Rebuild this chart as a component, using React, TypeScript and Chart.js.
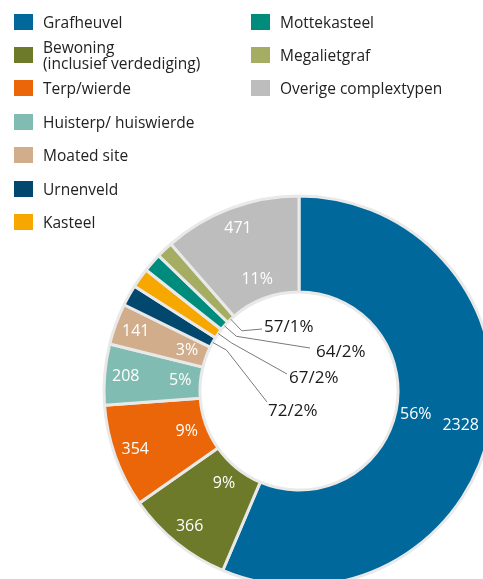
import React, { useEffect, useRef } from "react";
import { Chart, registerables } from "chart.js";

Chart.register(...registerables);

const categories = [
  "Grafheuvel",
  "Bewoning (inclusief verdediging)",
  "Terp/wierde",
  "Huisterp/ huiswierde",
  "Moated site",
  "Urnenveld",
  "Kasteel",
  "Mottekasteel",
  "Megalietgraf",
  "Overige complextypen",
];
const legendLabels = [
  "Grafheuvel",
  "Bewoning\n(inclusief verdediging)",
  "Terp/wierde",
  "Huisterp/ huiswierde",
  "Moated site",
  "Urnenveld",
  "Kasteel",
  "Mottekasteel",
  "Megalietgraf",
  "Overige complextypen",
];
const counts = [2328, 366, 354, 208, 141, 72, 67, 64, 57, 471];
const colors = [
  "#01689b",
  "#6c7a2a",
  "#ea6608",
  "#80bcb2",
  "#d1ad8c",
  "#02476d",
  "#f7a800",
  "#008c7d",
  "#a5ad63",
  "#bdbdbd",
];

// callout layout (relative to doughnut centre) for the small slices
const calloutIndex = [5, 6, 7, 8];
const calloutEnd = [
  [-32, 11],
  [-12, -17],
  [11, -43],
  [-37, -62],
];
const calloutTextShift = [
  [1, 9],
  [2, 4],
  [6, 4],
  [2, -2],
];

const FONT = "'Open Sans', 'Noto Sans', sans-serif";

export default function App() {
  const canvasRef = useRef<HTMLCanvasElement | null>(null);

  useEffect(() => {
    const canvas = canvasRef.current;
    if (!canvas) return;
    const total = counts.reduce((a, b) => a + b, 0);

    const labelPlugin = {
      id: "sliceLabels",
      afterDatasetsDraw(chart: any) {
        const ctx = chart.ctx;
        const meta = chart.getDatasetMeta(0);
        ctx.save();
        meta.data.forEach((arc: any, i: number) => {
          const p = arc.getProps(["x", "y", "startAngle", "endAngle", "innerRadius", "outerRadius"], true);
          const mid = (p.startAngle + p.endAngle) / 2;
          const pct = Math.round((counts[i] / total) * 100) + "%";
          const ring = p.outerRadius - p.innerRadius;
          const ci = calloutIndex.indexOf(i);
          if (ci < 0) {
            ctx.fillStyle = "#ffffff";
            ctx.font = "16px " + FONT;
            ctx.textAlign = "center";
            ctx.textBaseline = "middle";
            const rp = p.innerRadius + ring * 0.21;
            ctx.fillText(pct, p.x + Math.cos(mid) * rp, p.y + Math.sin(mid) * rp);
            const rv = p.innerRadius + ring * 0.78;
            const txt = String(counts[i]);
            const w = ctx.measureText(txt).width;
            let vx = p.x + Math.cos(mid) * rv;
            const maxX = 479 - w / 2;
            if (vx > maxX) vx = maxX;
            ctx.fillText(txt, vx, p.y + Math.sin(mid) * rv);
          } else {
            const sx = p.x + Math.cos(mid) * p.innerRadius;
            const sy = p.y + Math.sin(mid) * p.innerRadius;
            const ex1 = p.x + Math.cos(mid) * (p.innerRadius - 16);
            const ey1 = p.y + Math.sin(mid) * (p.innerRadius - 16);
            const ex = p.x + calloutEnd[ci][0];
            const ey = p.y + calloutEnd[ci][1];
            ctx.strokeStyle = "#7a7a7a";
            ctx.lineWidth = 1;
            ctx.beginPath();
            ctx.moveTo(sx, sy);
            ctx.lineTo(ex1, ey1);
            ctx.lineTo(ex, ey);
            ctx.stroke();
            ctx.fillStyle = "#1a1a1a";
            ctx.font = "17px " + FONT;
            ctx.textAlign = "left";
            ctx.textBaseline = "middle";
            ctx.fillText(
              counts[i] + "/" + pct,
              ex + calloutTextShift[ci][0],
              ey + calloutTextShift[ci][1]
            );
          }
        });
        ctx.restore();
      },
    };

    const chart = new Chart(canvas, {
      type: "doughnut",
      data: {
        labels: categories,
        datasets: [
          {
            data: counts,
            backgroundColor: colors,
            borderColor: "#e9e9e9",
            borderWidth: 3,
          },
        ],
      },
      options: {
        responsive: false,
        animation: false,
        radius: 195,
        cutout: "50.8%",
        layout: { padding: { left: 0, right: 2, top: 162, bottom: 0 } },
        plugins: {
          legend: { display: false },
          tooltip: { enabled: false },
        },
      } as any,
      plugins: [labelPlugin],
    });
    return () => chart.destroy();
  }, []);

  const rowCenters = [22, 55, 88, 121.5, 155, 188.5, 222];

  return (
    <div
      style={{
        position: "fixed",
        left: 0,
        top: 0,
        width: 483,
        height: 579,
        overflow: "hidden",
        background: "#ffffff",
        fontFamily: FONT,
      }}
    >
      <canvas
        ref={canvasRef}
        width={600}
        height={620}
        style={{ position: "absolute", left: 0, top: 0, width: 600, height: 620 }}
      />
      {legendLabels.map((lab, i) => {
        const col = i < 7 ? 0 : 1;
        const row = i < 7 ? i : i - 7;
        const cy = rowCenters[row];
        const sqX = col === 0 ? 14 : 251;
        const txX = col === 0 ? 43 : 280;
        return (
          <React.Fragment key={i}>
            <div
              style={{
                position: "absolute",
                left: sqX,
                top: cy - 8,
                width: 19,
                height: 16,
                background: colors[i],
              }}
            />
            <div
              style={{
                position: "absolute",
                left: txX,
                top: cy - 40,
                height: 80,
                display: "flex",
                alignItems: "center",
                fontSize: 15.5,
                lineHeight: "16px",
                color: "#222",
                whiteSpace: "pre",
              }}
            >
              {lab}
            </div>
          </React.Fragment>
        );
      })}
    </div>
  );
}
